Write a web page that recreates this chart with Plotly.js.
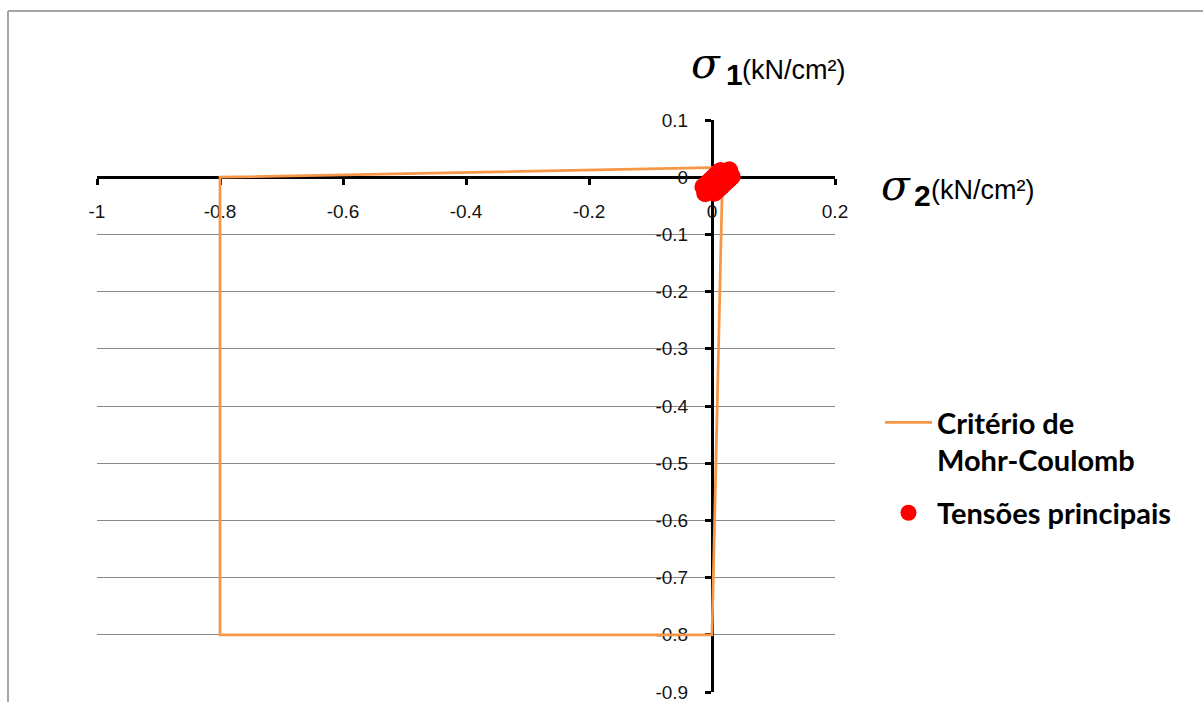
<!DOCTYPE html>
<html>
<head>
<meta charset="utf-8">
<script src="https://cdn.plot.ly/plotly-3.0.1.min.js"></script>
<style>
  html, body { margin: 0; padding: 0; background: #ffffff; }
  #chart { width: 1203px; height: 702px; }
</style>
</head>
<body>
<div id="chart"></div>
<script>
// ---- Data ----
// Mohr-Coulomb criterion polygon (x = sigma2, y = sigma1), kN/cm²
const mcSigma2 = [0.017, 0.017, 0, -0.8, -0.8, 0, 0.017];
const mcSigma1 = [0.017, 0, -0.8, -0.8, 0, 0.017, 0.017];

// Principal stresses (dense cluster near the origin)
const tpSigma2 = [-0.011, -0.007, -0.003, 0.001, 0.005, 0.009, 0.013, 0.017, 0.021, 0.025, 0.028,
                  -0.014, -0.010, -0.006, -0.002, 0.002, 0.006, 0.010, 0.014,
                  0.004, 0.008, 0.012, 0.016, 0.020, 0.024, 0.028, 0.032];
const tpSigma1 = [-0.028, -0.024, -0.020, -0.016, -0.012, -0.008, -0.004, 0.000, 0.004, 0.008, 0.012,
                  -0.017, -0.013, -0.009, -0.005, -0.001, 0.003, 0.007, 0.011,
                  -0.027, -0.023, -0.019, -0.015, -0.011, -0.007, -0.003, 0.001];

const seriesNames = ['Critério de<br>Mohr-Coulomb', 'Tensões principais'];

const xTickVals = [-1, -0.8, -0.6, -0.4, -0.2, 0, 0.2];
const xTickText = ['-1', '-0.8', '-0.6', '-0.4', '-0.2', '0', '0.2'];
const yTickVals = [0.1, 0, -0.1, -0.2, -0.3, -0.4, -0.5, -0.6, -0.7, -0.8, -0.9];
const yTickText = ['0.1', '0', '-0.1', '-0.2', '-0.3', '-0.4', '-0.5', '-0.6', '-0.7', '-0.8', '-0.9'];

const xRange = [-1, 0.2];
const yRange = [-0.9, 0.1];

// ---- Layout helpers ----
const W = 1203, H = 702;
const M = { l: 97, r: 368, t: 120, b: 10 };
const PW = W - M.l - M.r, PH = H - M.t - M.b;
const px = x => (x - M.l) / PW;
const py = y => (H - M.b - y) / PH;

const xAxisPos = (0 - yRange[0]) / (yRange[1] - yRange[0]);
const yAxisPos = (0 - xRange[0]) / (xRange[1] - xRange[0]);

const tickFont = { family: 'Liberation Sans, Arial, sans-serif', size: 19, color: '#141414' };

const traces = [
  {
    type: 'scatter', mode: 'lines',
    x: mcSigma2, y: mcSigma1,
    name: seriesNames[0], legendgroup: 'g1',
    line: { color: '#F79646', width: 2.75 },
    hoverinfo: 'skip'
  },
  {
    type: 'scatter', mode: 'markers',
    x: tpSigma2, y: tpSigma1,
    name: seriesNames[1], legendgroup: 'g2',
    marker: { color: '#FF0000', size: 18, line: { width: 0 } },
    hoverinfo: 'skip'
  }
];

function ann(text, xLeft, yMid, font) {
  return {
    xref: 'paper', yref: 'paper', x: px(xLeft), y: py(yMid),
    xanchor: 'left', yanchor: 'middle', showarrow: false,
    text: text, font: font, borderpad: 0
  };
}
const sigFont = { family: 'DejaVu Serif, serif', size: 42, color: '#000', style: 'italic' };
const subFont = { family: 'Liberation Sans, Arial, sans-serif', size: 30, color: '#000', weight: 'bold' };
const unitFont = { family: 'Liberation Sans, Arial, sans-serif', size: 27, color: '#000' };

const layout = {
  width: W, height: H,
  margin: M,
  paper_bgcolor: '#ffffff', plot_bgcolor: '#ffffff',
  showlegend: true,
  legend: {
    x: px(880), y: py(397), xanchor: 'left', yanchor: 'top',
    valign: 'top',
    font: { family: 'Lato, sans-serif', size: 29, color: '#000', weight: 'bold' },
    bgcolor: 'rgba(0,0,0,0)', borderwidth: 0,
    itemwidth: 47,
    tracegroupgap: 12
  },
  xaxis: {
    range: xRange, anchor: 'free', position: xAxisPos,
    tickmode: 'array', tickvals: xTickVals, ticktext: xTickText,
    showgrid: false, zeroline: false,
    showline: true, linecolor: '#000', linewidth: 3,
    ticks: 'outside', ticklen: 6, tickwidth: 3, tickcolor: '#000',
    tickfont: tickFont, ticklabelstandoff: 10,
    ticklabeloverflow: 'allow',
    layer: 'below traces', fixedrange: true
  },
  yaxis: {
    range: yRange, anchor: 'free', position: yAxisPos,
    tickmode: 'array', tickvals: yTickVals, ticktext: yTickText,
    showgrid: true, gridcolor: '#888888', gridwidth: 1,
    zeroline: false,
    showline: true, linecolor: '#000', linewidth: 3,
    ticks: 'outside', ticklen: 6, tickwidth: 3, tickcolor: '#000',
    tickfont: tickFont, ticklabelstandoff: 13,
    ticklabeloverflow: 'allow',
    layer: 'below traces', fixedrange: true
  },
  annotations: [
    ann('σ', 690, 64, sigFont),
    ann('1', 725, 74, subFont),
    ann('(kN/cm²)', 741, 70, unitFont),
    ann('σ', 880, 185, sigFont),
    ann('2', 913, 195, subFont),
    ann('(kN/cm²)', 930, 190, unitFont)
  ],
  shapes: [
    { type: 'line', xref: 'paper', yref: 'paper', x0: px(8), x1: px(8), y0: py(11), y1: py(H + 5),
      line: { color: '#a6a6a6', width: 2 } },
    { type: 'line', xref: 'paper', yref: 'paper', x0: px(8), x1: px(W + 5), y0: py(11), y1: py(11),
      line: { color: '#a6a6a6', width: 2 } }
  ]
};

Plotly.newPlot('chart', traces, layout, { displayModeBar: false, staticPlot: true });
</script>
</body>
</html>
